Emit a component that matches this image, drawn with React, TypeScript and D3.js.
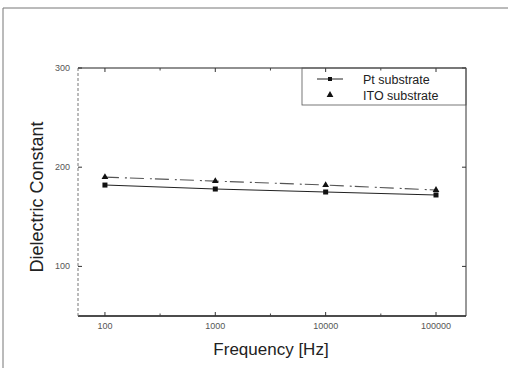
import React from "react";
import * as d3 from "d3";

const frequencies = [100, 1000, 10000, 100000];
const ptValues = [182, 178, 175, 172];
const itoValues = [190, 186, 182, 177];
const xTickValues = [100, 1000, 10000, 100000];
const xTickLabels = ["100", "1000", "10000", "100000"];
const xMinorTicks = [31.6, 316, 3162, 31623];
const yTickValues = [100, 200, 300];
const yTickLabels = ["100", "200", "300"];
const seriesNames = ["Pt substrate", "ITO substrate"];

const W = 508, H = 368;
const L = 78, R = 466, T = 68, B = 316;
const FONT = "'Liberation Sans', Arial, sans-serif";

export default function App() {
  const x = d3.scaleLog().domain([57, 187000]).range([L, R]);
  const y = d3.scaleLinear().domain([50, 300]).range([B, T]);
  const line = d3
    .line<[number, number]>()
    .x((d) => x(d[0]))
    .y((d) => y(d[1]));
  const pt = frequencies.map((f, i) => [f, ptValues[i]] as [number, number]);
  const ito = frequencies.map((f, i) => [f, itoValues[i]] as [number, number]);
  const tri = d3.symbol().type(d3.symbolTriangle).size(20);
  const minors = xMinorTicks.filter((v) => x(v) > L && x(v) < R);

  return (
    <svg
      width={W}
      height={H}
      style={{ position: "absolute", left: 0, top: 0, background: "#fff" }}
      fontFamily={FONT}
    >
      {/* outer frame */}
      <line x1={3} y1={8} x2={508} y2={8} stroke="#777" strokeWidth={1} />
      <line x1={3} y1={8} x2={3} y2={368} stroke="#777" strokeWidth={1} />

      {/* axes */}
      <line x1={L} y1={T} x2={R} y2={T} stroke="#222" strokeWidth={1.2} />
      <line x1={L} y1={B} x2={R} y2={B} stroke="#111" strokeWidth={1.4} />
      <line x1={R} y1={T} x2={R} y2={B} stroke="#333" strokeWidth={1} />
      <line x1={L} y1={T} x2={L} y2={B} stroke="#777" strokeWidth={1} strokeDasharray="3,2" />

      {/* x ticks */}
      {xTickValues.map((v, i) => (
        <g key={"xt" + i}>
          <line x1={x(v)} x2={x(v)} y1={B} y2={B - 4} stroke="#333" />
          <line x1={x(v)} x2={x(v)} y1={T} y2={T + 4} stroke="#333" />
          <text x={x(v)} y={329} fontSize={9} textAnchor="middle" fill="#555">
            {xTickLabels[i]}
          </text>
        </g>
      ))}
      {minors.map((v, i) => (
        <g key={"xm" + i}>
          <line x1={x(v)} x2={x(v)} y1={B} y2={B - 2.5} stroke="#444" />
          <line x1={x(v)} x2={x(v)} y1={T} y2={T + 2.5} stroke="#444" />
        </g>
      ))}

      {/* y ticks */}
      {yTickValues.map((v, i) => (
        <g key={"yt" + i}>
          <line x1={L} x2={L + 4} y1={y(v)} y2={y(v)} stroke="#333" />
          <line x1={R} x2={R - 4} y1={y(v)} y2={y(v)} stroke="#333" />
          <text x={70} y={y(v) + 3} fontSize={9} textAnchor="end" fill="#555">
            {yTickLabels[i]}
          </text>
        </g>
      ))}

      {/* series */}
      <path d={line(ito) || ""} fill="none" stroke="#555" strokeWidth={1.1} strokeDasharray="14,6,2,3" />
      <path d={line(pt) || ""} fill="none" stroke="#222" strokeWidth={1.1} />
      {pt.map((d, i) => (
        <rect key={"p" + i} x={x(d[0]) - 2.5} y={y(d[1]) - 2.5} width={5} height={5} fill="#111" />
      ))}
      {ito.map((d, i) => (
        <path key={"i" + i} d={tri() || ""} transform={`translate(${x(d[0])},${y(d[1])})`} fill="#111" />
      ))}

      {/* legend */}
      <rect x={302} y={T} width={R - 302} height={37} fill="none" stroke="#555" strokeWidth={0.8} />
      <line x1={317} x2={343} y1={79} y2={79} stroke="#222" strokeWidth={1} />
      <rect x={328} y={77} width={4} height={4} fill="#111" />
      <text x={363} y={83.5} fontSize={12.5} fill="#222">{seriesNames[0]}</text>
      <path d={tri() || ""} transform="translate(330,95)" fill="#111" />
      <text x={363} y={99.5} fontSize={12.5} fill="#222">{seriesNames[1]}</text>

      {/* axis titles */}
      <text
        transform="translate(43,197) rotate(-90)"
        fontSize={18}
        textAnchor="middle"
        fill="#222"
      >
        Dielectric Constant
      </text>
      <text x={271} y={355} fontSize={17} textAnchor="middle" fill="#222">
        Frequency [Hz]
      </text>
    </svg>
  );
}
